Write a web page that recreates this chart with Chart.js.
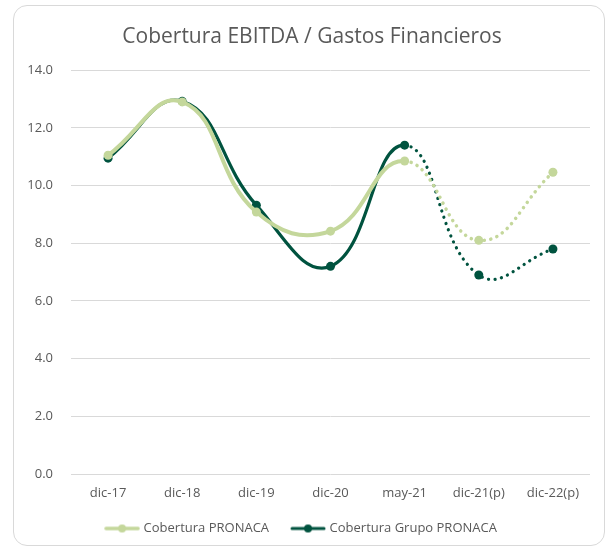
<!DOCTYPE html>
<html><head><meta charset="utf-8">
<script src="https://cdn.jsdelivr.net/npm/chart.js@4.4.0/dist/chart.umd.min.js"></script>
<style>
html,body{margin:0;padding:0;background:#fff;width:608px;height:549px;overflow:hidden;}
#card{position:absolute;left:13px;top:5px;width:592px;height:541px;border:1px solid #d9d9d9;border-radius:14px;box-sizing:border-box;}
#wrap{position:absolute;left:0;top:0;width:608px;height:549px;}
</style></head>
<body>
<div id="card"></div>
<div id="wrap"><canvas id="c" width="608" height="549"></canvas></div>
<script>
const categories = ['dic-17','dic-18','dic-19','dic-20','may-21','dic-21(p)','dic-22(p)'];
const pronaca = [11.05, 12.9, 9.08, 8.42, 10.85, 8.1, 10.46];
const grupoPronaca = [10.95, 12.92, 9.32, 7.2, 11.4, 6.9, 7.8];
const seriesNames = ['Cobertura PRONACA', 'Cobertura Grupo PRONACA'];
const yTicks = [0, 2, 4, 6, 8, 10, 12, 14];

const LIGHT = '#c4d79b';
const DARK = '#00533f';
const FONT = "'Open Sans', 'Noto Sans', sans-serif";

function legendIcon(color, lw){
  const cv = document.createElement('canvas');
  cv.width = 36; cv.height = 10;
  const g = cv.getContext('2d');
  g.strokeStyle = color; g.lineWidth = lw; g.lineCap='round';
  g.beginPath(); g.moveTo(2,5); g.lineTo(34,5); g.stroke();
  g.fillStyle = color; g.beginPath(); g.arc(18,5,4,0,Math.PI*2); g.fill();
  return cv;
}
const icons = [legendIcon(LIGHT,3.5), legendIcon(DARK,3)];

const dotted = (ctx) => ctx.p0DataIndex >= 4 ? [0.1, 6.5] : undefined;

const layoutShift = {
  id: 'layoutShift',
  afterLayout(chart){
    const lg = chart.legend;
    if (lg){ lg.top -= 3; lg.bottom -= 3; lg.left -= 3; lg.right -= 3; }
    const tb = chart.titleBlock;
    if (tb){ tb.left += 7; tb.right += 7; }
  }
};

new Chart(document.getElementById('c'), {
  type: 'line',
  data: {
    labels: categories,
    datasets: [
      {label: seriesNames[0], data: pronaca, borderColor: LIGHT, backgroundColor: LIGHT,
       borderWidth: 4, pointRadius: 4.5, pointBackgroundColor: LIGHT, pointBorderWidth: 0,
       tension: 0.45, borderCapStyle: 'round', segment: {borderDash: dotted, borderWidth: c => c.p0DataIndex>=4?3.5:4}},
      {label: seriesNames[1], data: grupoPronaca, borderColor: DARK, backgroundColor: DARK,
       borderWidth: 3.2, pointRadius: 4.5, pointBackgroundColor: DARK, pointBorderWidth: 0,
       tension: 0.45, borderCapStyle: 'round', segment: {borderDash: dotted}}
    ]
  },
  plugins: [layoutShift],
  options: {
    responsive: false,
    animation: false,
    layout: {padding: {left: 20, right: 18, top: 16, bottom: 1}},
    plugins: {
      title: {display: true, text: 'Cobertura EBITDA / Gastos Financieros', color: '#595959',
        font: {family: FONT, size: 21, weight: 'normal'}, padding: {top: 8, bottom: 21}},
      legend: {position: 'bottom', labels: {color: '#595959', font: {family: FONT, size: 13},
        usePointStyle: true, pointStyleWidth: 30, padding: 24,
        generateLabels: (chart) => chart.data.datasets.map((d,i)=>({text: d.label, pointStyle: icons[i], fontColor:'#595959', datasetIndex: i, lineWidth:0, strokeStyle:'transparent', fillStyle:'transparent'}))}},
      tooltip: {enabled: false}
    },
    scales: {
      x: {offset: true, grid: {display: false, drawTicks: false}, border: {display: false},
          afterFit: (s) => { s.height = 27; },
          ticks: {color: '#595959', font: {family: FONT, size: 13}, padding: 11}},
      y: {min: 0, max: 14, afterBuildTicks: (s) => { s.ticks = yTicks.map(v=>({value:v})); },
          afterFit: (s) => { s.width = 51; },
          grid: {color: '#d9d9d9', drawTicks: false, lineWidth: 1}, border: {display: false},
          ticks: {color: '#595959', font: {family: FONT, size: 13}, padding: 18, callback: v => v.toFixed(1)}}
    }
  }
});
</script>
</body></html>
